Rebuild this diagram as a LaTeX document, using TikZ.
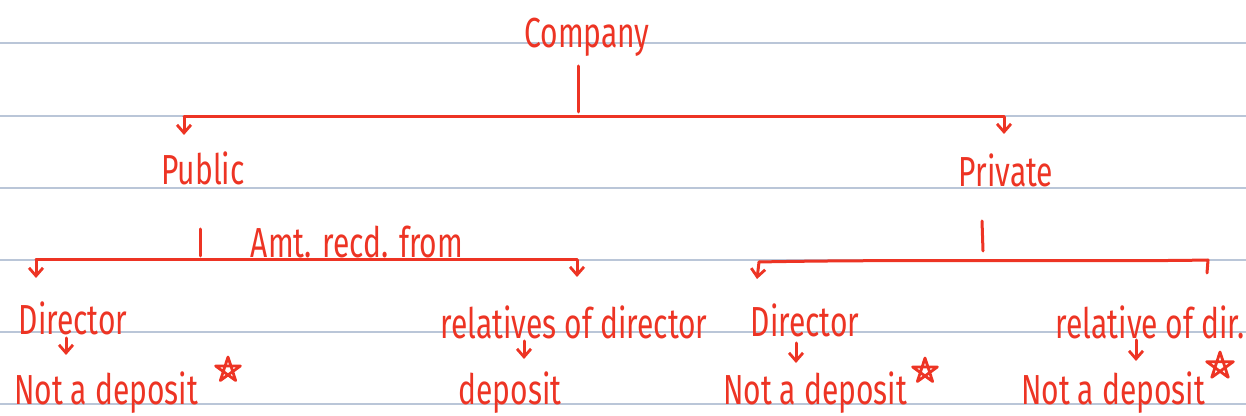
\documentclass[tikz,border=0pt]{standalone}
\usepackage{fontspec}
\setmainfont{Fira Sans}
\usetikzlibrary{arrows.meta}
\definecolor{penred}{RGB}{237,52,36}
\definecolor{ruled}{RGB}{186,198,216}
% tall, narrow lettering for the handwritten labels
\newcommand{\hw}[1]{\scalebox{1}[1.4]{#1}}
\tikzset{
  pen/.style={draw=penred, line width=1.5pt, line cap=round, line join=round},
  drop/.style={pen, -{Straight Barb[length=4pt,width=7pt,line width=1.4pt]}},
  label/.style={text=penred, font=\fontsize{15}{18}\selectfont, inner sep=0pt},
  rule/.style={draw=ruled, line width=0.8pt}
}
\begin{document}
\begin{tikzpicture}[x=0.5pt,y=-0.5pt]
\useasboundingbox (0,0) rectangle (1246,416);
% ruled notebook lines
\foreach \yy in {43,116,188,260,332,404}
  \draw[rule] (0,\yy) -- (1246,\yy);

% labels
\node[label] (company) at (587,37)  {\hw{Company}};
\node[label] (public)  at (203,168) {\hw{Public}};
\node[label] (private) at (1006,170) {\hw{Private}};
\node[label] (amt)     at (357,242) {\hw{Amt. recd. from}};
\node[label] (dirL)    at (73,318)  {\hw{Director}};
\node[label] (relL)    at (574,322) {\hw{relatives of director}};
\node[label] (ndL)     at (106,393) {\hw{Not a deposit}};
\node[label] (depL)    at (510,393) {\hw{deposit}};
\node[label] (dirR)    at (805,320) {\hw{Director}};
\node[label] (relR)    at (1150,322) {\hw{relative of dir.}};
\node[label] (ndR)     at (815,393) {\hw{Not a deposit}};
\node[label] (ndR2)    at (1113,393) {\hw{Not a deposit}};

% Company -> Public / Private
\coordinate (s1a) at (578,66);  \coordinate (s1b) at (578,112);
\coordinate (b1L) at (184,117); \coordinate (b1R) at (1004,117);
\coordinate (a1L) at (184,135); \coordinate (a1R) at (1004,134);
\draw[pen] (s1a) -- (s1b);
\draw[pen] (b1L) -- (b1R);
\draw[drop] (b1L) -- (a1L);
\draw[drop] (b1R) -- (a1R);

% Public -> Director / relatives of director
\coordinate (s2a) at (200,229); \coordinate (s2b) at (200,256);
\coordinate (b2L) at (36,260);  \coordinate (b2R) at (577,260);
\coordinate (a2L) at (36,278);  \coordinate (a2R) at (577,277);
\draw[pen] (s2a) -- (s2b);
\draw[pen] (b2L) -- (b2R);
\draw[drop] (b2L) -- (a2L);
\draw[drop] (b2R) -- (a2R);

% Private -> Director / relative of dir.
\coordinate (s3a) at (982,221); \coordinate (s3b) at (983,251);
\coordinate (b3L) at (759,262); \coordinate (b3R) at (1208,260);
\coordinate (a3L) at (757,279); \coordinate (h3R) at (1207,273);
\draw[pen] (s3a) -- (s3b);
\draw[pen] (b3L) .. controls (900,259) and (1100,262) .. (b3R) -- (h3R);
\draw[drop] (b3L) -- (a3L);

% outcome arrows
\coordinate (c1a) at (66,338);   \coordinate (c1b) at (66,355);
\coordinate (c2a) at (524,341);  \coordinate (c2b) at (524,359);
\coordinate (c3a) at (796,343);  \coordinate (c3b) at (796,363);
\coordinate (c4a) at (1136,340); \coordinate (c4b) at (1136,361);
\draw[drop] (c1a) -- (c1b);
\draw[drop] (c2a) -- (c2b);
\draw[drop] (c3a) -- (c3b);
\draw[drop] (c4a) -- (c4b);

% stars marking the exemptions
\foreach \cx/\cy/\r in {228/370/13, 925/371/13, 1220/366/14}
  \draw[pen, line width=1.4pt]
    (\cx,\cy-\r)
    -- ({\cx+\r*sin(144)},{\cy-\r*cos(144)})
    -- ({\cx+\r*sin(288)},{\cy-\r*cos(288)})
    -- ({\cx+\r*sin(72)},{\cy-\r*cos(72)})
    -- ({\cx+\r*sin(216)},{\cy-\r*cos(216)})
    -- cycle;
\end{tikzpicture}
\end{document}
